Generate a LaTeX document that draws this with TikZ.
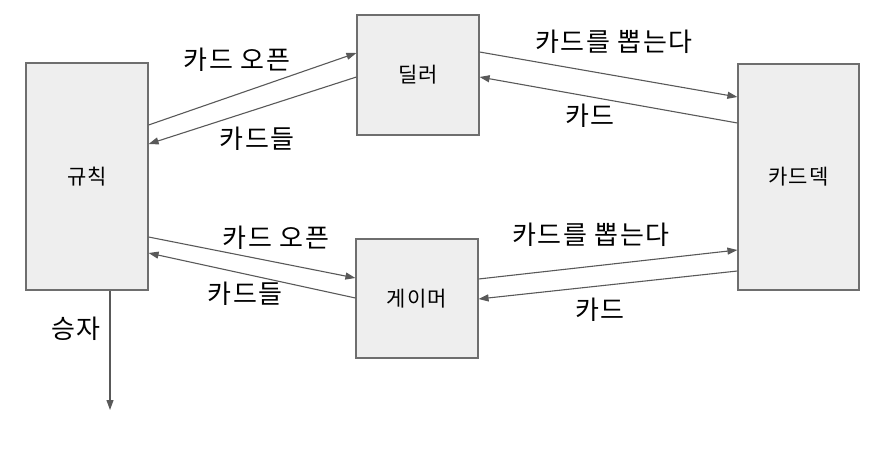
\documentclass[tikz,border=0pt]{standalone}
\usepackage{fontspec}
\newfontfamily\kr[LetterSpace=6]{Noto Sans CJK KR}
\usetikzlibrary{arrows.meta}

\definecolor{boxfill}{HTML}{EEEEEE}
\definecolor{boxline}{HTML}{6E6E6E}
\definecolor{arrline}{HTML}{595959}

\tikzset{
  box/.style={draw=boxline, fill=boxfill, line width=1.2pt, inner sep=0pt,
              font=\kr\fontsize{21}{24}\selectfont},
  flow/.style={->, draw=arrline, line width=1.1pt},
  lbl/.style={font=\kr\fontsize{26}{30}\selectfont, inner sep=0pt}
}

\begin{document}
\begin{tikzpicture}[x=1pt,y=-1pt,>={Triangle[length=10pt,width=7pt]}]

  \useasboundingbox (0,0) rectangle (891,452);

  \begin{scope}   % bloky

    \node[box, minimum width=122pt, minimum height=227pt] (rules)  at (87,176.5)  {규칙};
    \node[box, minimum width=122pt, minimum height=120pt] (dealer) at (418,75)    {딜러};
    \node[box, minimum width=122pt, minimum height=119pt] (gamer)  at (417,298.5) {게이머};
    \node[box, minimum width=121pt, minimum height=226pt] (deck)   at (798.5,177) {카드덱};

  \end{scope}

  \begin{scope}   % sipky nahore

    \draw[flow] (rules.east |- 0,125) -- (dealer.west |- 0,53);
    \draw[flow] (dealer.west |- 0,77) -- (rules.east |- 0,144);
    \draw[flow] (dealer.east |- 0,52) -- (deck.west |- 0,97);
    \draw[flow] (deck.west |- 0,123)  -- (dealer.east |- 0,77);

    \node[lbl] (open1) at (237,60)  {카드 오픈};
    \node[lbl] (cards1) at (257,139) {카드들};
    \node[lbl] (draw1) at (614,42)  {카드를 뽑는다};
    \node[lbl] (card1) at (590,116) {카드};

  \end{scope}

  \begin{scope}   % sipky dole

    \draw[flow] (rules.east |- 0,237) -- (gamer.west |- 0,278);
    \draw[flow] (gamer.west |- 0,298) -- (rules.east |- 0,253);
    \draw[flow] (gamer.east |- 0,279) -- (deck.west |- 0,250);
    \draw[flow] (deck.west |- 0,271)  -- (gamer.east |- 0,299);

    \node[lbl] (open2) at (276,238)  {카드 오픈};
    \node[lbl] (cards2) at (245,294) {카드들};
    \node[lbl] (draw2) at (591,235)  {카드를 뽑는다};
    \node[lbl] (card2) at (600,310)  {카드};

  \end{scope}

  % vitez
  \coordinate (winner) at (110,410);
  \draw[flow] (rules.south -| winner) -- (winner);
  \node[lbl] (winlbl) at (76,329) {승자};

\end{tikzpicture}
\end{document}
